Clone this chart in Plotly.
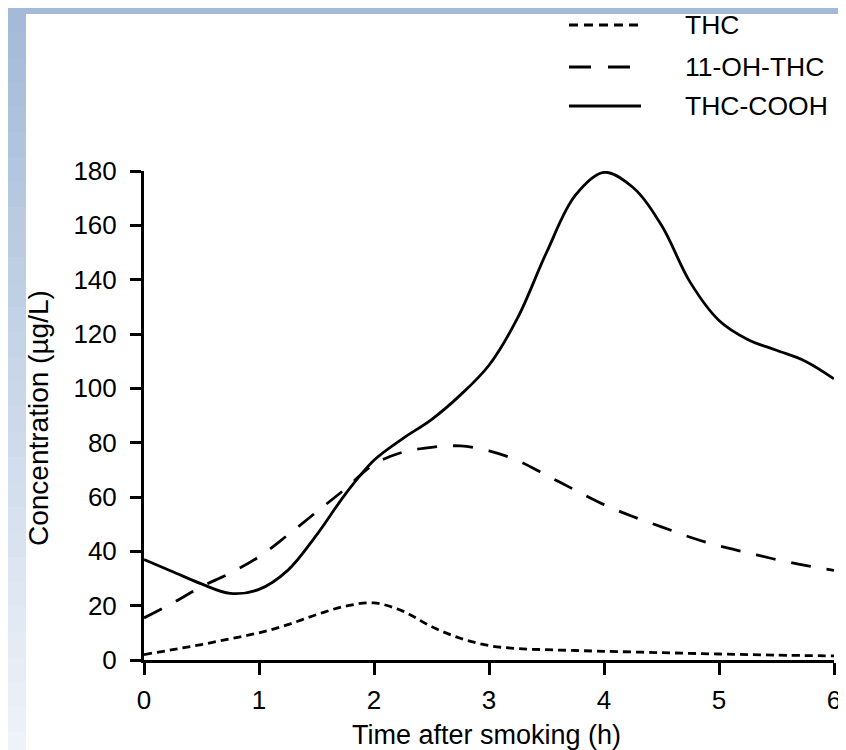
import plotly.graph_objects as go

# ---- data ----
thc_t = [0, 0.25, 0.5, 0.75, 1.0, 1.25, 1.5, 1.75, 2.0, 2.25, 2.5, 2.75, 3.0, 3.25, 3.5, 3.75, 4.0, 4.5, 5.0, 5.5, 6.0]
thc_v = [2, 3.8, 5.7, 7.8, 10, 13, 16.7, 19.8, 21, 18, 12.3, 8, 5.3, 4.2, 3.8, 3.5, 3.2, 2.7, 2.2, 1.8, 1.5]

oh_t = [0, 0.25, 0.5, 0.75, 1.0, 1.25, 1.5, 1.75, 2.0, 2.25, 2.5, 2.75, 3.0, 3.25, 3.5, 3.75, 4.0, 4.25, 4.5, 4.75, 5.0, 5.25, 5.5, 5.75, 6.0]
oh_v = [15.5, 21, 27, 32, 38, 46, 54.5, 63, 72, 76.5, 78.3, 78.8, 77, 73.4, 68, 62.5, 57.2, 52.8, 49, 45.2, 42, 39.5, 37, 34.8, 33]

cooh_t = [0, 0.25, 0.5, 0.75, 1.0, 1.25, 1.5, 1.75, 2.0, 2.25, 2.5, 2.75, 3.0, 3.25, 3.5, 3.75, 4.0, 4.25, 4.5, 4.75, 5.0, 5.25, 5.5, 5.75, 6.0]
cooh_v = [37, 32.5, 28, 24.5, 26, 33, 46, 61, 73.5, 81.5, 88.5, 97.5, 108.5, 126, 150, 171, 179.5, 174, 160, 139, 125, 118, 114, 110, 103.5]

series_names = ["THC", "11-OH-THC", "THC-COOH"]
x_ticks = [0, 1, 2, 3, 4, 5, 6]
y_ticks = [0, 20, 40, 60, 80, 100, 120, 140, 160, 180]
x_title = "Time after smoking (h)"
y_title = "Concentration (µg/L)"

# ---- layout geometry (pixels) ----
W, H = 846, 750
L, R, T, B = 136, 20, 163, 98
PW, PH = W - L - R, H - T - B


def px(xp):
    return (xp - L) / PW


def py(yp):
    return (H - B - yp) / PH


FONT = "Liberation Sans, Arial, Helvetica, sans-serif"
dashes = ["8px,5px", "20px,16px", "solid"]
LW = 2.8

fig = go.Figure()
for name, xs, ys, d in zip(series_names, [thc_t, oh_t, cooh_t], [thc_v, oh_v, cooh_v], dashes):
    fig.add_trace(go.Scatter(
        x=xs, y=ys, mode="lines", name=name, showlegend=False,
        line=dict(color="black", width=LW, dash=d, shape="spline", smoothing=1.0),
    ))

shapes = []
# gradient blue background
top_c = (0xA3, 0xB9, 0xD7)
bot_c = (0xEF, 0xF4, 0xFA)
n = 30
for i in range(n):
    f = (i + 0.5) / n
    c = tuple(int(round(top_c[k] + (bot_c[k] - top_c[k]) * f)) for k in range(3))
    shapes.append(dict(type="rect", xref="paper", yref="paper", layer="below",
                       x0=px(0), x1=px(W), y0=py(H * (i + 1) / n + 1), y1=py(H * i / n - 1),
                       line=dict(width=0), fillcolor="rgb(%d,%d,%d)" % c))
# white panel
shapes.append(dict(type="rect", xref="paper", yref="paper", layer="below",
                   x0=px(18), x1=px(833), y0=py(748), y1=py(6),
                   line=dict(width=0), fillcolor="white"))

# manual legend
rows_y = [17, 59, 98]
annotations = []
for name, d, ry in zip(series_names, ["9px,6px", "22px,17px", "solid"], rows_y):
    shapes.append(dict(type="line", xref="paper", yref="paper",
                       x0=px(561), x1=px(633), y0=py(ry), y1=py(ry),
                       line=dict(color="black", width=3, dash=d)))
    annotations.append(dict(xref="paper", yref="paper", x=px(675), y=py(ry),
                            xanchor="left", yanchor="middle", showarrow=False,
                            text=name, font=dict(family=FONT, size=26.5, color="black")))

annotations.append(dict(xref="paper", yref="paper", x=px(478), y=py(727),
                        xanchor="center", yanchor="middle", showarrow=False,
                        text=x_title, font=dict(family=FONT, size=27, color="black")))
annotations.append(dict(xref="paper", yref="paper", x=px(30), y=py(410),
                        xanchor="center", yanchor="middle", showarrow=False, textangle=-90,
                        text=y_title, font=dict(family=FONT, size=28, color="black")))

axis_common = dict(
    showgrid=False, zeroline=False, showline=True, linecolor="black", linewidth=3,
    ticks="outside", tickcolor="black", tickwidth=2.8,
    tickfont=dict(family=FONT, size=26, color="black"),
)

fig.update_layout(
    width=W, height=H, autosize=False,
    margin=dict(l=L, r=R, t=T, b=B, pad=0),
    paper_bgcolor="#c6d5ea", plot_bgcolor="white",
    xaxis=dict(range=[0, 6], tickvals=x_ticks, ticklen=12, ticklabelstandoff=3, **axis_common),
    yaxis=dict(range=[0, 180], tickvals=y_ticks, ticklen=11, ticklabelstandoff=8, **axis_common),
    shapes=shapes, annotations=annotations,
    showlegend=False,
)

fig.write_html("out.html")
